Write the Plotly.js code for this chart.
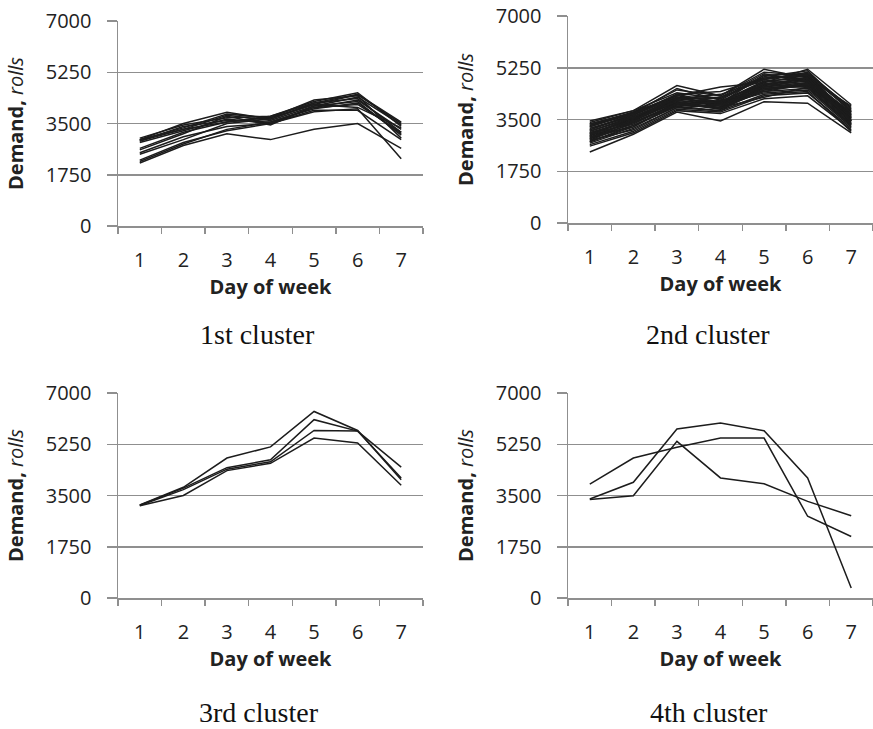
<!DOCTYPE html>
<html>
<head>
<meta charset="utf-8">
<script src="https://cdn.plot.ly/plotly-3.0.1.min.js"></script>
<style>html,body{margin:0;padding:0;background:#fff;}#chart{width:873px;height:729px;}</style>
</head>
<body>
<div id="chart"></div>
<script>
// ---- data ----
const days = ['1', '2', '3', '4', '5', '6', '7'];
const yTickVals = [0, 1750, 3500, 5250, 7000];
const captions = ['1st cluster', '2nd cluster', '3rd cluster', '4th cluster'];
const xTitle = 'Day of week';
const yTitle = '<b>Demand,</b> <i>rolls</i>';

const cluster1 = [
  [2950, 3350, 3820, 3700, 4150, 4480, 3500],
  [2900, 3300, 3780, 3600, 4100, 4400, 3450],
  [3000, 3450, 3700, 3750, 4250, 4550, 3400],
  [2850, 3250, 3650, 3500, 4050, 4300, 3300],
  [2950, 3500, 3880, 3650, 4200, 4350, 3200],
  [2900, 3400, 3600, 3550, 4000, 4200, 3150],
  [2600, 3150, 3750, 3450, 4100, 4250, 3100],
  [2650, 3200, 3550, 3700, 4300, 4450, 3000],
  [2450, 2950, 3500, 3650, 4150, 4050, 3350],
  [2500, 3050, 3400, 3500, 3950, 3950, 2950],
  [2200, 2800, 3300, 3550, 4050, 4150, 3200],
  [2150, 2750, 3150, 2950, 3300, 3500, 2650],
  [2250, 2850, 3250, 3500, 3900, 4000, 2300],
  [2950, 3300, 3550, 3750, 4200, 4500, 3550]
];

const cluster2 = [
  [3300, 3700, 4300, 4100, 4800, 4900, 3700],
  [3200, 3650, 4250, 4000, 4700, 4850, 3600],
  [3100, 3600, 4200, 4050, 4650, 4800, 3550],
  [3000, 3550, 4150, 3950, 4600, 4750, 3500],
  [2900, 3450, 4100, 3900, 4550, 4700, 3450],
  [2800, 3400, 4050, 3850, 4500, 4650, 3400],
  [3400, 3800, 4400, 4200, 5000, 5050, 3900],
  [3350, 3750, 4500, 4300, 5100, 5000, 3800],
  [3250, 3700, 4550, 4150, 4950, 5150, 3750],
  [3150, 3650, 4350, 4450, 4900, 4950, 3650],
  [3050, 3500, 4200, 4250, 4850, 5100, 3850],
  [2950, 3400, 4000, 4100, 4750, 5000, 3600],
  [2850, 3300, 3950, 3800, 4600, 4600, 3350],
  [2750, 3250, 4000, 3900, 4450, 4550, 3300],
  [2700, 3200, 3900, 4000, 4400, 4500, 3250],
  [2650, 3100, 3850, 3750, 4300, 4400, 3200],
  [2600, 3050, 3800, 3700, 4200, 4300, 3150],
  [2400, 3000, 3750, 3450, 4100, 4050, 3050],
  [3450, 3800, 4650, 4300, 5200, 4900, 3950],
  [3300, 3750, 4300, 4600, 4750, 5200, 4000],
  [3100, 3550, 4050, 4250, 5050, 4800, 3700],
  [3000, 3500, 4100, 3850, 4650, 4900, 3550],
  [2900, 3350, 4050, 4050, 4550, 4650, 3500],
  [2850, 3500, 4150, 4000, 4500, 4750, 3400],
  [3200, 3600, 4100, 3900, 4800, 4700, 3650],
  [3250, 3750, 4250, 4200, 4900, 5000, 3450],
  [2950, 3600, 4200, 4100, 4600, 4850, 3750],
  [3050, 3450, 4250, 3950, 4700, 4600, 3300],
  [2750, 3300, 3950, 4150, 4450, 4700, 3600],
  [3350, 3700, 4350, 4050, 5000, 4800, 3500],
  [2800, 3150, 3900, 3800, 4350, 4450, 3100],
  [3150, 3700, 4200, 4350, 4850, 5050, 3800],
  [3000, 3400, 4000, 4100, 4700, 4900, 3450],
  [2900, 3250, 4050, 3900, 4250, 4600, 3350]
];

const cluster3 = [
  [3180, 3780, 4780, 5160, 6370, 5720, 4040],
  [3170, 3750, 4450, 4720, 6090, 5700, 4470],
  [3160, 3700, 4400, 4650, 5720, 5700, 4100],
  [3150, 3500, 4350, 4600, 5460, 5290, 3850]
];

const cluster4 = [
  [3890, 4780, 5150, 5460, 5460, 2790, 2100],
  [3380, 3950, 5770, 5975, 5710, 4100, 340],
  [3360, 3490, 5350, 4100, 3900, 3300, 2810]
];

const clusters = [cluster1, cluster2, cluster3, cluster4];

// ---- layout geometry (pixels in the 873x729 page) ----
const W = 873, H = 729;
const panels = [
  {l: 118, r: 423, t: 21, b: 226, cap: [257, 335]},
  {l: 568, r: 873, t: 16, b: 223, cap: [708, 335]},
  {l: 118, r: 423, t: 393, b: 598, cap: [259, 712]},
  {l: 568, r: 873, t: 393, b: 598, cap: [709, 712]}
];

const gridCol = '#8f8f8f';
const lineCol = '#1c1c1c';
const tickFont = {family: 'Open Sans, DejaVu Sans, sans-serif', size: 20, color: '#222222'};
const titleFont = {family: 'Open Sans, DejaVu Sans, sans-serif', size: 20, color: '#222222'};

const traces = [];
const layout = {
  width: W, height: H,
  margin: {l: 0, r: 0, t: 0, b: 0},
  paper_bgcolor: '#ffffff', plot_bgcolor: '#ffffff',
  showlegend: false, hovermode: false,
  annotations: []
};

clusters.forEach((cl, i) => {
  const n = i + 1;
  const xa = 'x' + (n === 1 ? '' : n);
  const ya = 'y' + (n === 1 ? '' : n);
  cl.forEach(vals => {
    traces.push({
      type: 'scatter', mode: 'lines', x: days, y: vals,
      xaxis: xa, yaxis: ya,
      line: {color: lineCol, width: 1.5},
      hoverinfo: 'skip'
    });
  });
  const p = panels[i];
  layout['xaxis' + (n === 1 ? '' : n)] = {
    domain: [p.l / W, p.r / W], anchor: ya,
    type: 'category', categoryorder: 'array', categoryarray: days,
    range: [-0.5, days.length - 0.5],
    tickson: 'boundaries', ticks: 'outside', ticklen: 6, tickwidth: 1.5, tickcolor: gridCol,
    showgrid: false, zeroline: false,
    showline: true, linecolor: gridCol, linewidth: 1.5,
    tickfont: tickFont, ticklabelstandoff: 15,
    title: {text: '<b>' + xTitle + '</b>', font: titleFont, standoff: 4},
    fixedrange: true
  };
  layout['yaxis' + (n === 1 ? '' : n)] = {
    domain: [1 - p.b / H, 1 - p.t / H], anchor: xa,
    range: [0, 7000], tickmode: 'array', tickvals: yTickVals,
    ticktext: yTickVals.map(String),
    ticks: 'outside', ticklen: 10, tickwidth: 1.5, tickcolor: gridCol,
    showgrid: true, gridcolor: gridCol, gridwidth: 1.5,
    zeroline: false, showline: true, linecolor: gridCol, linewidth: 1.5,
    tickfont: tickFont, ticklabelstandoff: 11,
    title: {text: yTitle, font: titleFont, standoff: 17},
    fixedrange: true
  };
  layout.annotations.push({
    xref: 'paper', yref: 'paper', x: p.cap[0] / W, y: 1 - p.cap[1] / H,
    xanchor: 'center', yanchor: 'middle', showarrow: false,
    text: captions[i],
    font: {family: 'Liberation Serif, Times New Roman, serif', size: 28, color: '#111111'}
  });
});

Plotly.newPlot('chart', traces, layout, {staticPlot: true, displayModeBar: false});
</script>
</body>
</html>
